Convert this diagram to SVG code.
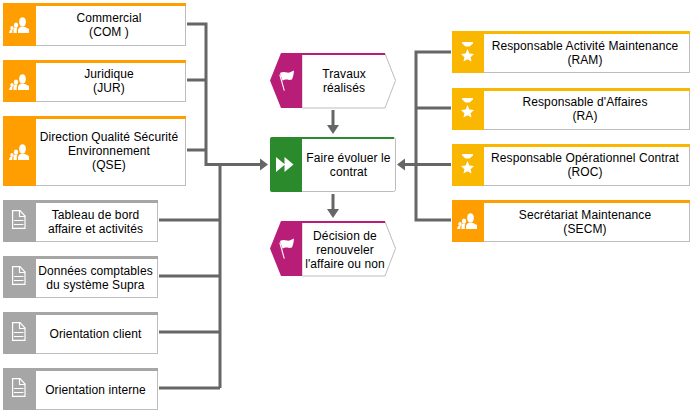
<svg xmlns="http://www.w3.org/2000/svg" width="694" height="415" viewBox="0 0 694 415">
<style>
.b{fill:#fff;stroke:#bdbdbd;stroke-width:1}
.t{font-family:"Liberation Sans",Arial,sans-serif;font-size:12px;fill:#000;text-anchor:middle;letter-spacing:.1px}
.c{fill:none;stroke:#666;stroke-width:3}
.ah{fill:#666}
.org{fill:#ff9e00}.gold{fill:#f9b700}.gr{fill:#a6a6a6}.mag{fill:#b81e78}.grn{fill:#2b8a2b}
.w{fill:#fff}
.ws{fill:none;stroke:#fff;stroke-width:1.2}
</style>
<defs>
<g id="people"><ellipse class="w" cx="19.500" cy="14" rx="3.400" ry="4.800"/><path class="w" d="M15 25V21.500L17 19H22L26 21V25Z"/><ellipse class="w" cx="13" cy="17" rx="2.200" ry="2.600"/><path class="w" d="M10.500 25V21.500L11.500 19.500H14.500L13.800 21.500 13.800 25Z"/><ellipse class="w" cx="9" cy="20" rx="1.700" ry="2"/><path class="w" d="M6 25L7 22H9.500L9.200 25Z"/></g>
<g id="star"><path class="w" d="M10 6H21V7.500L17.500 10.500H13.500L10 7.500Z"/><path class="w" d="M15.500 13L17.400 17.400 22 18 18.600 21.200 19.500 25.500 15.500 23.300 11.500 25.500 12.400 21.200 9 18 13.600 17.400Z"/></g>
<g id="doc"><path class="ws" d="M9.600 5.600H17L22 11V23.400H9.600Z M16.500 5.600V11.500H22"/><path class="ws" d="M11 15.500H20.500M11 19.500H20.500" stroke-width="1.500"/></g>
<g id="flag"><path class="w" d="M0 4C3 2.500 5 3 7 3.500 9 4 11 3 14 1.500 13.800 5 13 8 12 10.500 9 11.500 7.500 10.500 6 10.500 5 10.500 4 11 2.500 11.500Z"/><path class="w" d="M.300 5L4.800 21.500 3.800 21.800-.700 6Z"/></g>
</defs>
<g id="connectors">
<path class="c" d="M187 24H206V164.500H262"/>
<path class="c" d="M187 80H206M187 150H206"/>
<path class="c" d="M220 164.500V388M159 220H220M159 276H220M159 332H220M159 388H220"/>
<path class="c" d="M333 110V126M333 194V210"/>
<path class="c" d="M451 52H416V220H451M416 108H451M451 164.500H404"/>
<path class="ah" d="M260 158.500L268 164.500L260 170.500ZM327 125H339L333 134ZM327 209H339L333 218ZM405 158.500L397 164.500L405 170.500Z"/>
</g>
<g id="com"><rect class="b" x="3.500" y="3.500" width="182" height="42"/><rect class="org" x="3" y="3" width="183" height="3"/><rect class="org" x="3" y="3" width="33" height="43"/><use href="#people" x="3" y="8"/><text class="t" x="109" y="22">Commercial</text><text class="t" x="109" y="36">(COM )</text></g>
<g id="jur"><rect class="b" x="3.500" y="60.500" width="182" height="41"/><rect class="org" x="3" y="60" width="183" height="3"/><rect class="org" x="3" y="60" width="33" height="42"/><use href="#people" x="3" y="65"/><text class="t" x="109" y="78">Juridique</text><text class="t" x="109" y="92">(JUR)</text></g>
<g id="qse"><rect class="b" x="3.500" y="116.500" width="182" height="69"/><rect class="org" x="3" y="116" width="183" height="3"/><rect class="org" x="3" y="116" width="33" height="70"/><use href="#people" x="3" y="135"/><text class="t" x="109" y="141">Direction Qualité Sécurité</text><text class="t" x="109" y="155">Environnement</text><text class="t" x="109" y="169">(QSE)</text></g>
<g id="tableau"><rect class="b" x="3.500" y="200.500" width="154" height="41"/><rect class="gr" x="3" y="200" width="155" height="3"/><rect class="gr" x="3" y="200" width="33" height="42"/><use href="#doc" x="3" y="205"/><text class="t" x="95.500" y="219">Tableau de bord</text><text class="t" x="95.500" y="233">affaire et activités</text></g>
<g id="donnees"><rect class="b" x="3.500" y="256.500" width="154" height="41"/><rect class="gr" x="3" y="256" width="155" height="3"/><rect class="gr" x="3" y="256" width="33" height="42"/><use href="#doc" x="3" y="261"/><text class="t" x="95.500" y="275">Données comptables</text><text class="t" x="95.500" y="289">du système Supra</text></g>
<g id="client"><rect class="b" x="3.500" y="312.500" width="154" height="41"/><rect class="gr" x="3" y="312" width="155" height="3"/><rect class="gr" x="3" y="312" width="33" height="42"/><use href="#doc" x="3" y="317"/><text class="t" x="95.500" y="338">Orientation client</text></g>
<g id="interne"><rect class="b" x="3.500" y="368.500" width="154" height="41"/><rect class="gr" x="3" y="368" width="155" height="3"/><rect class="gr" x="3" y="368" width="33" height="42"/><use href="#doc" x="3" y="373"/><text class="t" x="95.500" y="394">Orientation interne</text></g>
<g id="travaux"><path class="b" d="M302 53.500H385L395.500 80.500L385 108H302Z"/><path class="mag" d="M281 53H385V55H302V108H281L270 80.500Z"/><use href="#flag" x="280" y="69"/><text class="t" x="344" y="78">Travaux</text><text class="t" x="344" y="92">réalisés</text></g>
<g id="fonction"><rect class="b" x="270.500" y="137.500" width="125" height="54" rx="2"/><path class="grn" d="M272 137H394V139H302V192H272Q270 192 270 190V139Q270 137 272 137Z"/><path class="w" d="M276 157L285 164.500L276 172ZM284.500 157L293.500 164.500L284.500 172Z"/><text class="t" x="348.500" y="162">Faire évoluer le</text><text class="t" x="348.500" y="176">contrat</text></g>
<g id="decision"><path class="b" d="M302 221.500H385L395.500 248.500L385 276H302Z"/><path class="mag" d="M281 221H385V223H302V276H281L270 248.500Z"/><use href="#flag" x="280" y="237"/><text class="t" x="345" y="240">Décision de</text><text class="t" x="345" y="254">renouveler</text><text class="t" x="345" y="268">l'affaire ou non</text></g>
<g id="ram"><rect class="b" x="452.500" y="31.500" width="237" height="41"/><rect class="gold" x="452" y="31" width="238" height="3"/><rect class="gold" x="452" y="31" width="32" height="42"/><use href="#star" x="452" y="36"/><text class="t" x="585" y="50">Responsable Activité Maintenance</text><text class="t" x="585" y="64">(RAM)</text></g>
<g id="ra"><rect class="b" x="452.500" y="88.500" width="237" height="41"/><rect class="gold" x="452" y="88" width="238" height="3"/><rect class="gold" x="452" y="88" width="32" height="42"/><use href="#star" x="452" y="92"/><text class="t" x="585" y="106">Responsable d'Affaires</text><text class="t" x="585" y="120">(RA)</text></g>
<g id="roc"><rect class="b" x="452.500" y="144.500" width="237" height="41"/><rect class="gold" x="452" y="144" width="238" height="3"/><rect class="gold" x="452" y="144" width="32" height="42"/><use href="#star" x="452" y="148"/><text class="t" x="585" y="162">Responsable Opérationnel Contrat</text><text class="t" x="585" y="176">(ROC)</text></g>
<g id="secm"><rect class="b" x="452.500" y="200.500" width="237" height="41"/><rect class="org" x="452" y="200" width="238" height="3"/><rect class="org" x="452" y="200" width="32" height="42"/><use href="#people" x="451" y="204"/><text class="t" x="585" y="219">Secrétariat Maintenance</text><text class="t" x="585" y="233">(SECM)</text></g>
</svg>
